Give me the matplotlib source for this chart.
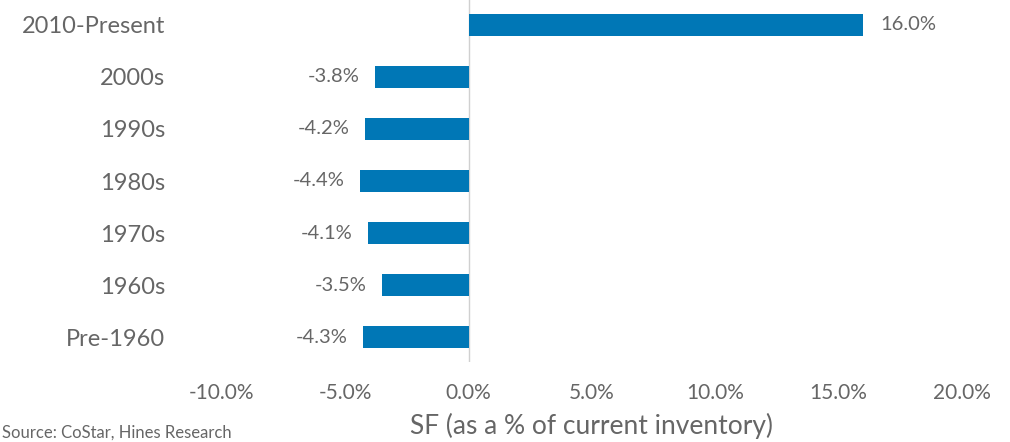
import matplotlib
matplotlib.use("Agg")
import matplotlib.pyplot as plt

categories = ["Pre-1960", "1960s", "1970s", "1980s", "1990s", "2000s", "2010-Present"]
values = [-4.3, -3.5, -4.1, -4.4, -4.2, -3.8, 16.0]
xticks = [-10, -5, 0, 5, 10, 15, 20]
xtick_labels = ["-10.0%", "-5.0%", "0.0%", "5.0%", "10.0%", "15.0%", "20.0%"]

BAR = "#0077b6"
TEXT = "#666666"
plt.rcParams["font.family"] = ["Lato", "DejaVu Sans"]

W, H = 1010, 442
fig = plt.figure(figsize=(W / 100, H / 100), dpi=100)
left, right = 222 / W, 962 / W
bottom, top = 1 - 362 / H, 1.0
ax = fig.add_axes([left, bottom, right - left, top - bottom])

ypos = list(range(len(categories)))
ax.barh(ypos, values, height=0.43, color=BAR, zorder=2)

ax.set_xlim(-10, 20)
ax.set_ylim(-0.48, 6.48)
ax.axvline(0, color="#d0d0d0", lw=1.0, zorder=1)

for s in ax.spines.values():
    s.set_visible(False)

ax.set_yticks(ypos)
ax.set_yticklabels(categories, fontsize=17, color=TEXT)
ax.set_xticks(xticks)
ax.set_xticklabels(xtick_labels, fontsize=15, color=TEXT)
ax.tick_params(axis="y", length=0, pad=41)
ax.tick_params(axis="x", length=0, pad=15)

ax.set_xlabel("SF (as a % of current inventory)", fontsize=19, color=TEXT,
              labelpad=7)

for y, v in zip(ypos, values):
    if v >= 0:
        ax.annotate(f"{v:.1f}%", (v, y), xytext=(12, 0), textcoords="offset points",
                    ha="left", va="center", fontsize=14.5, color=TEXT)
    else:
        ax.annotate(f"{v:.1f}%", (v, y), xytext=(-11, 0), textcoords="offset points",
                    ha="right", va="center", fontsize=14.5, color=TEXT)

fig.text(2 / W, 1 / H, "Source: CoStar, Hines Research", fontsize=12,
         color=TEXT, ha="left", va="bottom")

fig.savefig("out.png", dpi=100, facecolor="white")
